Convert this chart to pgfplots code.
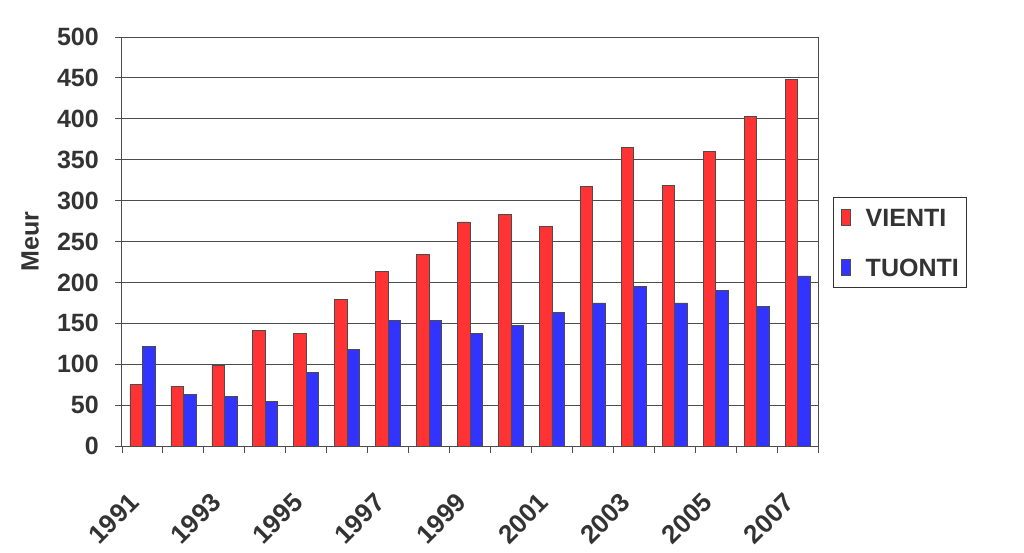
\documentclass[border=0pt]{standalone}
\usepackage{pgfplots}
\pgfplotsset{compat=1.18}
\usepackage{fontspec}
\setmainfont{Liberation Sans}
\definecolor{barred}{HTML}{FF3333}
\definecolor{barblue}{HTML}{3333FF}
\definecolor{txt}{HTML}{333333}
\begin{document}
\begin{tikzpicture}[x=1pt,y=1pt]
\path[use as bounding box] (-122,-106) rectangle (902,446);
\begin{axis}[
  at={(0,0)}, anchor=south west,
  scale only axis, width=696pt, height=409pt,
  xmin=-0.5, xmax=16.5, ymin=0, ymax=500,
  ytick={0,50,...,500},
  xtick={-0.5,0.5,...,16.5}, xticklabels={},
  extra x ticks={0,2,...,16},
  extra x tick labels={1991,1993,1995,1997,1999,2001,2003,2005,2007},
  extra x tick style={major tick length=0pt, grid=none},
  xticklabel style={xshift=-8pt, yshift=-52pt, rotate=45, anchor=east, inner sep=0pt, font=\bfseries\fontsize{26}{26}\selectfont},
  /pgf/number format/assume math mode=true,
  tick align=outside, tick pos=left, major tick length=7pt,
  ymajorgrids, grid style={black!70, line width=0.9pt},
  axis line style={black!70, line width=1pt},
  tick style={black!70, line width=0.9pt},
  ticklabel style={font=\bfseries\fontsize{25}{25}\selectfont, text=txt},
  yticklabel style={anchor=east, inner sep=0pt, xshift=-16pt},
  ylabel={Meur},
  ylabel style={at={(axis description cs:-0.132,0.5)}, anchor=center, font=\bfseries\fontsize{25}{25}\selectfont, text=txt},
  ybar=0pt, bar width=12.5pt,
  legend style={at={(1.0216,0.609)}, anchor=north west, draw=black!80, line width=0.8pt,
     font=\bfseries\fontsize{25}{25}\selectfont, text=txt, inner xsep=8pt, inner ysep=8pt,
     row sep=26pt, nodes={inner ysep=3pt, inner xsep=0pt, text height=18pt, text depth=0pt}},
  legend cell align=left,
  legend image code/.code={\draw[#1, draw=black!70, line width=0.6pt] (0pt,-8pt) rectangle (9pt,8pt); \path[draw=none, fill=none] (0pt,0pt) -- (24pt,0pt);},
]
\addplot[fill=barred, draw=black!70, line width=0.7pt] coordinates {
(0,75) (1,73) (2,99) (3,141) (4,138) (5,179) (6,213) (7,234) (8,274)
(9,283) (10,268) (11,317) (12,365) (13,319) (14,360) (15,403) (16,448)};
\addplot[fill=barblue, draw=black!70, line width=0.7pt] coordinates {
(0,122) (1,63) (2,61) (3,55) (4,90) (5,118) (6,154) (7,154) (8,138)
(9,147) (10,163) (11,175) (12,195) (13,175) (14,190) (15,171) (16,208)};
\legend{VIENTI,TUONTI}
\end{axis}
\end{tikzpicture}
\end{document}
